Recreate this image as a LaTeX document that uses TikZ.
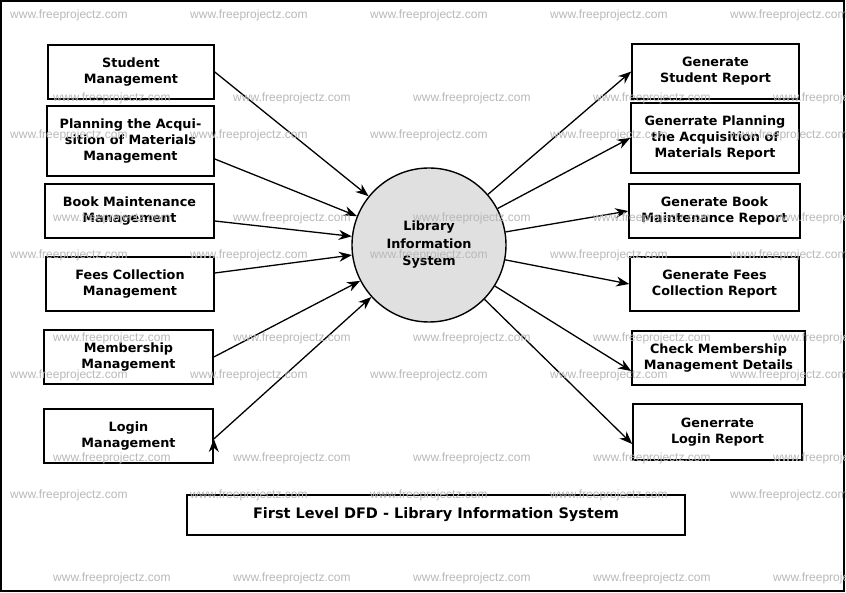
\documentclass[tikz,border=0pt]{standalone}
\usepackage{fontspec}
\setmainfont{DejaVu Sans}
\newfontfamily\markfont{Liberation Sans}
\usetikzlibrary{arrows.meta, positioning}
\tikzset{
>={Stealth[length=13pt,width=10pt]}, % filled arrow heads
proc/.style={draw, line width=1.6pt, align=center, font=\fontsize{12.8}{16}\selectfont\bfseries, inner sep=2pt}, % every process box
flow/.style={->, line width=1.3pt}, % data flows
wmark/.style={anchor=west, inner sep=0pt, text=black!28, font=\markfont\fontsize{12}{14}\selectfont}, % watermark
}

\begin{document}
\begin{tikzpicture}[x=1pt, y=-1pt]
    \useasboundingbox (0,0) rectangle (846,593);
    \draw[line width=2pt] (1,1) rectangle (844,591);
    % central process
    \node[circle, draw, line width=1.4pt, fill=black!12, minimum size=154pt, align=center, font=\fontsize{12.8}{17.5}\selectfont\bfseries] (lis) at (429,245) {Library\\Information\\System};
    % inputs
    \node[proc, minimum width=166pt, minimum height=54pt] (sm) at (131,72) {Student\\Management};
    \node[proc, minimum width=167pt, minimum height=70pt] (pam) at (130.5,141) {Planning the Acqui-\\sition of Materials\\Management};
    \node[proc, minimum width=169pt, minimum height=54pt] (bmm) at (129.5,211) {Book Maintenance\\Management};
    \node[proc, minimum width=168pt, minimum height=54pt] (fcm) at (130,284) {Fees Collection\\Management};
    \node[proc, minimum width=169pt, minimum height=54pt] (mm) at (128.5,357) {Membership\\Management};
    \node[proc, minimum width=169pt, minimum height=54pt] (lm) at (128.5,436) {Login\\Management};
    % outputs
    \node[proc, minimum width=167pt, minimum height=55pt] (gsr) at (715.5,71.5) {Generate\\Student Report};
    \node[proc, minimum width=168pt, minimum height=70pt] (gpr) at (715,138) {Generrate Planning\\the Acquisition of\\Materials Report};
    \node[proc, minimum width=171pt, minimum height=54pt] (gbr) at (714.5,211) {Generate Book\\Maintenance Report};
    \node[proc, minimum width=169pt, minimum height=54pt] (gfr) at (714.5,284) {Generate Fees\\Collection Report};
    \node[proc, minimum width=173pt, minimum height=54pt] (cmd) at (718.5,358) {Check Membership\\Management Details};
    \node[proc, minimum width=169pt, minimum height=56pt] (glr) at (717.5,432) {Generrate\\Login Report};
    \node[proc, minimum width=498pt, minimum height=40pt, font=\fontsize{14.5}{17}\selectfont\bfseries] (title) at (436,515) {First Level DFD - Library Information System};
    \draw[flow]
    (sm.east) edge (lis)
    ([yshift=-18pt]pam.east) edge (lis)
    ([yshift=-10pt]bmm.east) edge (lis)
    ([yshift=11pt]fcm.east) edge (lis)
    (mm.east) edge (lis)
    ([yshift=-3pt]lm.east) edge (lis)
    (lis) edge (gsr.west)
    (lis) edge (gpr.west)
    (lis) edge (gbr.west)
    (lis) edge (gfr.west)
    (lis) edge ([yshift=-13pt]cmd.west)
    (lis) edge ([yshift=-12pt]glr.west);
    % watermarks
    \foreach \y in {15,135,255,375,495}
      \foreach \x in {10,190,370,550,730}
        \node[wmark] at (\x,\y) {www.freeprojectz.com};
    \foreach \y in {98,218,338,458,578}
      \foreach \x in {53,233,413,593,773}
        \node[wmark] at (\x,\y) {www.freeprojectz.com};
\end{tikzpicture}
\end{document}
